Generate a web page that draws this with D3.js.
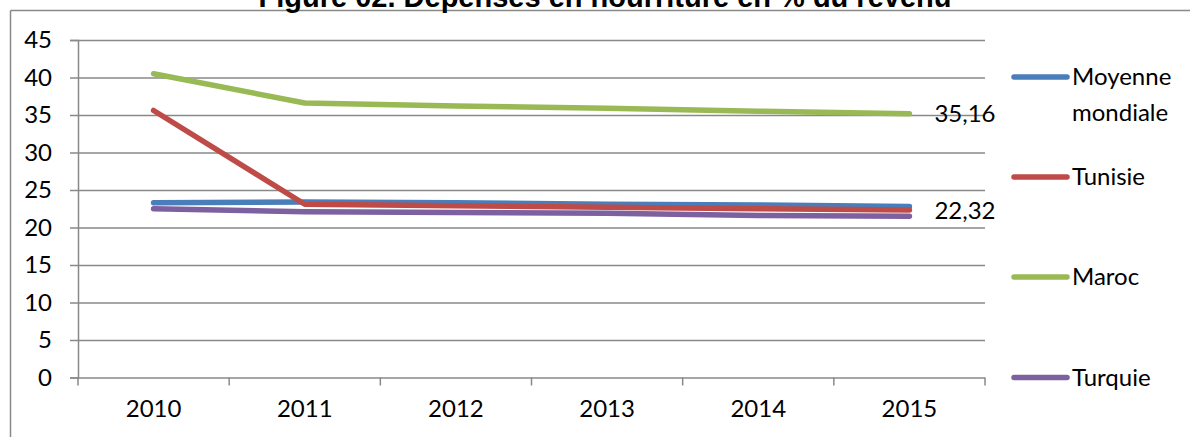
<!DOCTYPE html>
<html>
<head>
<meta charset="utf-8">
<script src="https://cdn.jsdelivr.net/npm/d3@7"></script>
<style>
  html, body { margin: 0; padding: 0; background: #fff; }
  svg { display: block; }
</style>
</head>
<body>
<svg id="chart" width="1190" height="437"></svg>
<script>
// Dépenses en nourriture en % du revenu, 2010-2015
const years = ["2010", "2011", "2012", "2013", "2014", "2015"];
const moyenneMondiale = [23.3, 23.4, 23.3, 23.1, 23.0, 22.8];
const tunisie = [35.6, 23.1, 22.9, 22.7, 22.5, 22.32];
const maroc = [40.5, 36.6, 36.2, 35.9, 35.5, 35.16];
const turquie = [22.5, 22.1, 22.0, 21.9, 21.6, 21.5];
const yTicks = [0, 5, 10, 15, 20, 25, 30, 35, 40, 45];

const seriesNames = [["Moyenne", "mondiale"], ["Tunisie"], ["Maroc"], ["Turquie"]];
const seriesValues = [moyenneMondiale, tunisie, maroc, turquie];
const seriesColors = ["#4a7ebb", "#be4b48", "#98b954", "#7d60a0"];
// value labels shown at the last point of these series
const labelled = [false, true, true, false];

const svg = d3.select("#chart");
const font = "Lato, 'Open Sans', sans-serif";
const fontSize = 24;
const gridColor = "#898989";

const plot = { left: 78, right: 985, top: 40, bottom: 377.5 };

const x = d3.scaleBand().domain(years).range([plot.left, plot.right]);
const y = d3.scaleLinear().domain([0, 45]).range([plot.bottom, plot.top]);

// chart frame (top and left edges)
svg.append("line").attr("x1", 10.5).attr("x2", 1190).attr("y1", 10.5).attr("y2", 10.5)
  .attr("stroke", gridColor).attr("stroke-width", 1.5);
svg.append("line").attr("x1", 10.5).attr("x2", 10.5).attr("y1", 10.5).attr("y2", 437)
  .attr("stroke", gridColor).attr("stroke-width", 1.5);

// title
svg.append("text")
  .attr("x", 605).attr("y", 7)
  .attr("text-anchor", "middle")
  .attr("font-family", "'Liberation Sans', Arial, sans-serif")
  .attr("font-weight", "bold")
  .attr("font-size", 29)
  .attr("fill", "#000")
  .text("Figure 02. Dépenses en nourriture en % du revenu");

// horizontal gridlines + y axis
const yAxis = d3.axisLeft(y).tickValues(yTicks).tickSize(8).tickPadding(18)
  .tickFormat(d3.format("d"));
const gy = svg.append("g").attr("transform", `translate(${plot.left},0)`).call(yAxis);
gy.select(".domain").attr("stroke", gridColor).attr("stroke-width", 1.5);
gy.selectAll(".tick line").attr("stroke", gridColor).attr("stroke-width", 1.5);
gy.selectAll(".tick text").attr("font-family", font).attr("font-size", fontSize).attr("fill", "#000");
gy.selectAll(".tick").append("line")
  .attr("x1", 0).attr("x2", plot.right - plot.left)
  .attr("stroke", gridColor).attr("stroke-width", 1.5);

// x axis with ticks on category boundaries
const xAxis = d3.axisBottom(x).tickSize(0).tickPadding(22);
const gx = svg.append("g").attr("transform", `translate(0,${plot.bottom})`).call(xAxis);
gx.select(".domain").remove();
gx.selectAll(".tick text").attr("font-family", font).attr("font-size", fontSize).attr("fill", "#000");
const boundaries = years.map(d => x(d)).concat([x(years[years.length - 1]) + x.bandwidth()]);
gx.selectAll(".boundary").data(boundaries).enter().append("line")
  .attr("x1", d => d).attr("x2", d => d).attr("y1", 0).attr("y2", 8)
  .attr("stroke", gridColor).attr("stroke-width", 1.5);

// series lines
const line = d3.line()
  .x((d, i) => x(years[i]) + x.bandwidth() / 2)
  .y(d => y(d));

seriesValues.forEach((vals, k) => {
  svg.append("path")
    .datum(vals)
    .attr("d", line)
    .attr("fill", "none")
    .attr("stroke", seriesColors[k])
    .attr("stroke-width", 5.5)
    .attr("stroke-linecap", "round")
    .attr("stroke-linejoin", "round");
});

// value labels at 2015
const fmt = v => d3.format(".2f")(v).replace(".", ",");
seriesValues.forEach((vals, k) => {
  if (!labelled[k]) return;
  const last = vals.length - 1;
  svg.append("text")
    .attr("x", x(years[last]) + x.bandwidth() / 2 + 25)
    .attr("y", y(vals[last]))
    .attr("dy", "0.35em")
    .attr("font-family", font).attr("font-size", fontSize).attr("fill", "#000")
    .text(fmt(vals[last]));
});

// legend
const legendY = [77, 177, 277, 377.5];
seriesNames.forEach((name, k) => {
  const g = svg.append("g").attr("transform", `translate(0,${legendY[k]})`);
  g.append("line").attr("x1", 1014).attr("x2", 1067).attr("y1", 0).attr("y2", 0)
    .attr("stroke", seriesColors[k]).attr("stroke-width", 5.5).attr("stroke-linecap", "round");
  const t = g.append("text").attr("x", 1072).attr("y", 0)
    .attr("font-family", font).attr("font-size", fontSize).attr("fill", "#000");
  name.forEach((part, j) => {
    t.append("tspan").attr("x", 1072).attr("dy", j === 0 ? "0.35em" : "1.5em").text(part);
  });
});
</script>
</body>
</html>
